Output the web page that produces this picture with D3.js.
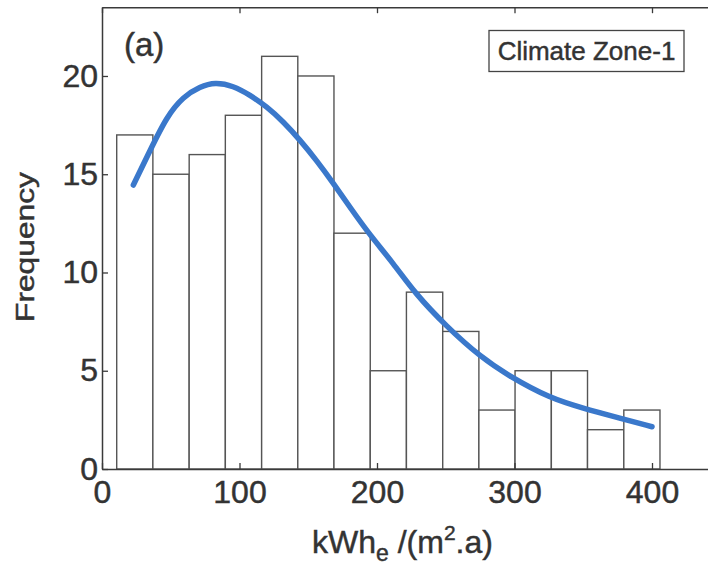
<!DOCTYPE html>
<html>
<head>
<meta charset="utf-8">
<script src="https://cdn.jsdelivr.net/npm/d3@7/dist/d3.min.js"></script>
<style>
  html, body { margin: 0; padding: 0; background: #ffffff; }
  svg { display: block; }
  text { font-family: "Liberation Sans", Arial, Helvetica, sans-serif; fill: #333; stroke: #333; stroke-width: 0.45px; }
</style>
</head>
<body>
<svg id="chart" width="708" height="568"></svg>
<script>
// Histogram bin edges, kWh_e/(m².a)
const binEdges = [10.7, 37.0, 63.4, 89.7, 116.1, 142.4, 168.7, 195.1, 221.4, 247.8, 274.1, 300.4, 326.8, 353.1, 379.5, 405.8];
// Number of buildings per bin
const counts = [17, 15, 16, 18, 21, 20, 12, 5, 9, 7, 3, 5, 5, 2, 3];
// Fitted distribution curve (x, frequency)
const fitX = [22.8, 34.9, 47, 59.1, 71.3, 82.2, 95.5, 107.6, 119.8, 131.9, 144, 156.1, 168.2, 181, 194.9, 211.9, 227.6, 250.7, 274.9, 296.7, 325.8, 350, 374.3, 400];
const fitY = [14.45, 16.2, 17.93, 18.95, 19.46, 19.68, 19.5, 19.03, 18.44, 17.67, 16.74, 15.7, 14.55, 13.25, 11.9, 10.47, 8.94, 7.24, 5.72, 4.7, 3.6, 3.09, 2.63, 2.15];
// Axis ticks
const xTicks = [0, 100, 200, 300, 400];
const yTicks = [0, 5, 10, 15, 20];
const panelLabel = "(a)";
const legendLabel = "Climate Zone-1";

const svg = d3.select("#chart");
const plotLeft = 102, plotRight = 720.75, plotTop = 7.2, plotBottom = 469;

const x = d3.scaleLinear().domain([0, 450]).range([plotLeft, plotRight]);
const y = d3.scaleLinear().domain([0, 23.5]).range([plotBottom, plotTop]);

const axisColor = "#3a3a3a";

// Bars
const bins = counts.map((c, i) => ({ x0: binEdges[i], x1: binEdges[i + 1], n: c }));
svg.append("g")
  .selectAll("rect")
  .data(bins)
  .join("rect")
  .attr("x", d => x(d.x0))
  .attr("y", d => y(d.n))
  .attr("width", d => x(d.x1) - x(d.x0))
  .attr("height", d => y(0) - y(d.n))
  .attr("fill", "#ffffff")
  .attr("stroke", "#555")
  .attr("stroke-width", 1.4);

// Fitted curve
const pts = fitX.map((v, i) => [v, fitY[i]]);
svg.append("path")
  .datum(pts)
  .attr("fill", "none")
  .attr("stroke", "#3a78cb")
  .attr("stroke-width", 5.5)
  .attr("stroke-linecap", "round")
  .attr("stroke-linejoin", "round")
  .attr("d", d3.line().x(d => x(d[0])).y(d => y(d[1])).curve(d3.curveBasis));

// Axes with inward ticks, boxed
function styleAxis(g) {
  g.select(".domain").attr("stroke", axisColor).attr("stroke-width", 1.5);
  g.selectAll(".tick line").attr("stroke", axisColor).attr("stroke-width", 1.3);
  g.selectAll(".tick text")
    .style("font-size", "32px")
    .attr("fill", "#333");
}

svg.append("g")
  .attr("transform", `translate(0,${plotBottom})`)
  .call(d3.axisBottom(x).tickValues(xTicks).tickSizeInner(-6).tickSizeOuter(0).tickPadding(11))
  .call(styleAxis);

svg.append("g")
  .attr("transform", `translate(0,${plotTop})`)
  .call(d3.axisTop(x).tickValues(xTicks).tickSizeInner(-6).tickSizeOuter(0).tickFormat(""))
  .call(styleAxis);

svg.append("g")
  .attr("transform", `translate(${plotLeft},0)`)
  .call(d3.axisLeft(y).tickValues(yTicks).tickSizeInner(-6).tickSizeOuter(0).tickPadding(4))
  .call(styleAxis);

svg.append("g")
  .attr("transform", `translate(${plotRight},0)`)
  .call(d3.axisRight(y).tickValues(yTicks).tickSizeInner(-6).tickSizeOuter(0).tickFormat(""))
  .call(styleAxis);

// Panel label
svg.append("text")
  .attr("x", 124)
  .attr("y", 56)
  .style("font-size", "33px")
  .text(panelLabel);

// Legend box
svg.append("rect")
  .attr("x", 489).attr("y", 30.5)
  .attr("width", 195).attr("height", 41)
  .attr("fill", "#fff")
  .attr("stroke", "#444")
  .attr("stroke-width", 1.3);
svg.append("text")
  .attr("x", 586.5).attr("y", 60)
  .attr("text-anchor", "middle")
  .style("font-size", "26px")
  .text(legendLabel);

// Y axis title
svg.append("text")
  .attr("transform", "translate(34,247) rotate(-90)")
  .attr("text-anchor", "middle")
  .attr("textLength", 150)
  .attr("lengthAdjust", "spacingAndGlyphs")
  .style("font-size", "25px")
  .text("Frequency");

// X axis title: kWh_e /(m^2.a)
const xt = svg.append("text")
  .attr("x", 312).attr("y", 553)
  .style("font-size", "32px");
xt.append("tspan").text("kWh");
xt.append("tspan").attr("dy", 8).style("font-size", "23px").text("e");
xt.append("tspan").attr("dy", -8).text(" /(m");
xt.append("tspan").attr("dy", -13).style("font-size", "21px").text("2");
xt.append("tspan").attr("dy", 13).text(".a)");
</script>
</body>
</html>
